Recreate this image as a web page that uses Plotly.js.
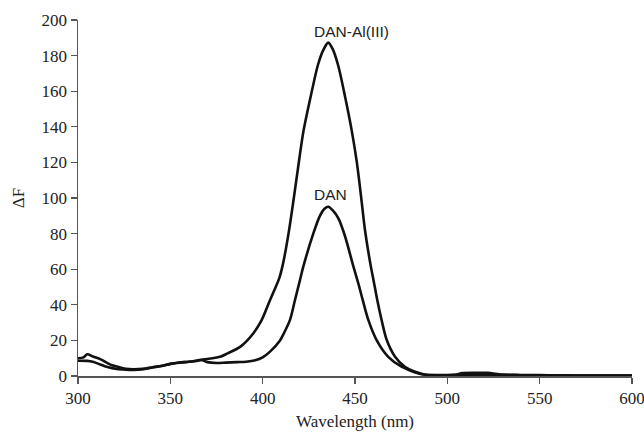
<!DOCTYPE html>
<html><head><meta charset="utf-8">
<script src="https://cdn.plot.ly/plotly-3.0.1.min.js"></script>
<style>html,body{margin:0;padding:0;background:#fff}#chart{width:644px;height:433px}</style>
</head><body><div id="chart"></div>
<script>
// DAN-Al(III) spectrum
var alWavelength = [300,303,305,308,312,317,322,326,330,335,340,345,350,355,360,365,370,377,381,388,395,399.5,404,409,411,414,416.6,419.3,422,426,430,433,435.5,438,441,444.6,448.2,451,453.6,455.4,458.5,460,462,464.4,467.1,471.6,477,482.5,487,490,500,510,520,530,540,550,560,570,580,590,600];
var alDeltaF = [10,10.5,12.2,11,9.5,6.7,5,4,3.8,4,4.8,5.6,6.8,7.6,8,8.8,9.6,10.8,12.7,16.5,24,31.5,42.7,55,63,80,98,118,137,157,175,183.5,187.3,183.5,174,157,138,120,98,82,62,54,43,31.5,20.5,11,5.2,2.4,1,0.6,0.5,0.6,0.5,0.6,0.4,0.4,0.3,0.3,0.2,0.3,0.3];
// DAN spectrum
var danWavelength = [300,305,308,312,316,321,326,330,335,340,345,350,355,360,365,367,370,375,380,386,391,396,400,404,409.4,411.5,414.8,417.5,420.2,422,427.4,431,433.5,435.5,438,441,444.6,449,451.8,454.1,457.2,461.7,468,475.2,481.5,486,490,505,508,515,522,526,530,540,550,560,570,580,590,600];
var danDeltaF = [8.6,8.5,8,6.5,5,3.9,3.5,3.4,3.8,4.8,5.6,6.8,7.5,8,8.6,9,7.8,7.3,7.5,7.8,8,8.8,10.5,13.7,20,24,31.5,42.7,53.9,61.4,80,90,94,95.1,93,88.5,78.5,62,52,43,31.5,20.2,10.8,5.2,2.4,1,0.6,0.8,1.6,1.8,1.8,1.3,0.8,0.6,0.5,0.4,0.3,0.3,0.2,0.3];
var labels = ["DAN-Al(III)", "DAN"];
var labelX = [426.7, 426.7];
var labelY = [193.4, 101.9];

var xTicks = [300,350,400,450,500,550,600];
var yTicks = [0,20,40,60,80,100,120,140,160,180,200];

var lineStyle = {color:'#111', width:2.6, shape:'spline', smoothing:0.8};
var traces = [
  {x: alWavelength, y: alDeltaF, mode:'lines', line: lineStyle, name: labels[0]},
  {x: danWavelength, y: danDeltaF, mode:'lines', line: lineStyle, name: labels[1]}
];
var serif = {family:'"Liberation Serif", "Times New Roman", serif', size:17, color:'#222'};
var layout = {
  width:644, height:433,
  margin:{l:78, r:12, t:20, b:57},
  paper_bgcolor:'#fff', plot_bgcolor:'#fff',
  showlegend:false,
  xaxis:{range:[300,600], tickvals:xTicks, ticks:'outside', ticklen:6, tickcolor:'#555', tickwidth:1.3,
         showline:true, linecolor:'#555', linewidth:1.5, showgrid:false, zeroline:false,
         ticklabeloverflow:'allow',
         tickfont:serif, title:{text:'Wavelength (nm)', font:serif, standoff:8}},
  yaxis:{range:[0,200], tickvals:yTicks, ticks:'outside', ticklen:6, tickcolor:'#555', tickwidth:1.3,
         showline:true, linecolor:'#555', linewidth:1.5, showgrid:false, zeroline:false,
         tickfont:serif, title:{text:'ΔF', font:serif, standoff:12}},
  annotations: labels.map(function(t,i){
    return {x:labelX[i], y:labelY[i], xref:'x', yref:'y', text:t, showarrow:false, xanchor:'left', yanchor:'middle',
            font:{family:'"Liberation Sans", Arial, sans-serif', size:15.5, color:'#222'}};
  })
};
Plotly.newPlot('chart', traces, layout, {displayModeBar:false, staticPlot:true});
</script></body></html>
